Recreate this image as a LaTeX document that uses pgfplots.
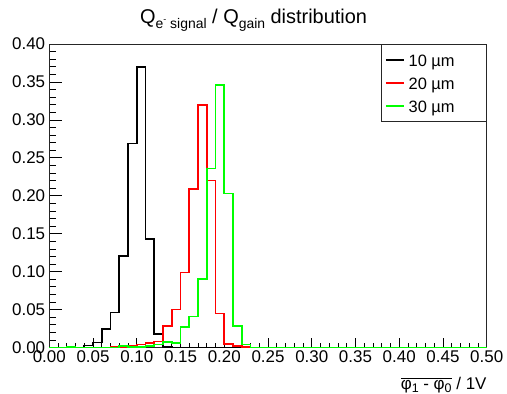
\documentclass[border=0pt]{standalone}
\usepackage{fontspec}
\setmainfont{Liberation Sans}
\usepackage{pgfplots}
\pgfplotsset{compat=1.18}
\newcommand{\tsub}[1]{\raisebox{-0.42ex}{\fontsize{14}{14}\selectfont #1}}
\newcommand{\sub}[1]{\raisebox{-0.42ex}{\fontsize{12.5}{13}\selectfont #1}}
\newcommand{\supm}{\raisebox{0.8ex}{\fontsize{9}{9}\selectfont -}}
\begin{document}
\fontsize{17}{20}\selectfont
\begin{tikzpicture}
\begin{axis}[
  at={(0,0)}, anchor=south west,
  scale only axis, width=437.4bp, height=303.5bp,
  xmin=0, xmax=0.5, ymin=0, ymax=0.4,
  clip=false,
  axis line style={line width=0.8bp, draw=black!85},
  tick align=inside,
  xtick pos=bottom, ytick pos=left,
  xtick={0,0.05,0.1,0.15,0.2,0.25,0.3,0.35,0.4,0.45,0.5},
  ytick={0,0.05,0.1,0.15,0.2,0.25,0.3,0.35,0.4},
  minor x tick num=4, minor y tick num=4,
  xtick style={/pgfplots/major tick length=9bp, /pgfplots/minor tick length=4.5bp, line width=0.7bp, black},
  ytick style={/pgfplots/major tick length=13bp, /pgfplots/minor tick length=6.5bp, line width=0.7bp, black},
  /pgf/number format/.cd, fixed, fixed zerofill, precision=2, assume math mode=true,
  /pgfplots/.cd,
  tick label style={font=\fontsize{17}{20}\selectfont},
  xticklabel style={inner ysep=3bp},
  yticklabel style={inner xsep=4bp},
  title={Q\tsub{e\supm\ signal} / Q\tsub{gain} distribution},
  title style={at={(0.467,1)}, anchor=base, yshift=14.2bp, inner sep=0pt, font=\fontsize{20}{22}\selectfont},
  xlabel={$\overline{\mbox{φ\sub{1} - φ\sub{0}}}$ / 1V},
  xlabel style={at={(rel axis cs:1,0)}, anchor=base east, yshift=-41.5bp, inner sep=0pt, font=\fontsize{17}{20}\selectfont},
  legend style={at={(1,1)}, anchor=north east, draw=black!85, line width=0.7bp,
    inner xsep=3.7bp, inner ysep=4bp, row sep=0pt, column sep=4bp,
    font=\fontsize{16.5}{20}\selectfont,
    nodes={inner sep=0pt, text height=18bp, text depth=5bp}},
  legend cell align=left,
  legend image code/.code={\draw[#1, line width=1.3bp] (0bp,0bp) -- (18bp,0bp);},
]
\addplot[const plot mark left, black, line width=1.6bp, mark=none] coordinates {
(0,0)(0.04,0.0024)(0.05,0.0068)(0.06,0.024)(0.07,0.046)(0.08,0.1206)(0.09,0.269)(0.10,0.370)(0.11,0.143)(0.12,0.018)(0.13,0.001)(0.14,0)(0.5,0)};
\addlegendentry{\makebox[74bp][l]{10 µm}}
\addplot[const plot mark left, red, line width=1.6bp, mark=none] coordinates {
(0,0)(0.02,0.0006)(0.03,0)(0.07,0.001)(0.08,0.001)(0.09,0.002)(0.10,0.004)(0.11,0.0063)(0.12,0.0078)(0.13,0.028)(0.14,0.050)(0.15,0.099)(0.16,0.209)(0.17,0.320)(0.18,0.220)(0.19,0.045)(0.20,0.005)(0.21,0.002)(0.22,0.0008)(0.23,0)(0.5,0)};
\addlegendentry{\makebox[74bp][l]{20 µm}}
\addplot[const plot mark left, green, line width=1.6bp, mark=none] coordinates {
(0,0)(0.02,0.001)(0.03,0)(0.08,0.002)(0.09,0.001)(0.10,0.001)(0.11,0.002)(0.12,0.004)(0.13,0.007)(0.14,0.006)(0.15,0.027)(0.16,0.041)(0.17,0.090)(0.18,0.236)(0.19,0.346)(0.20,0.203)(0.21,0.028)(0.22,0.004)(0.23,0)(0.5,0)};
\addlegendentry{\makebox[74bp][l]{30 µm}}
\end{axis}
\pgfresetboundingbox
\path[use as bounding box] (-49.3bp,-46.5bp) rectangle (457.7bp,347.5bp);
\end{tikzpicture}
\end{document}
